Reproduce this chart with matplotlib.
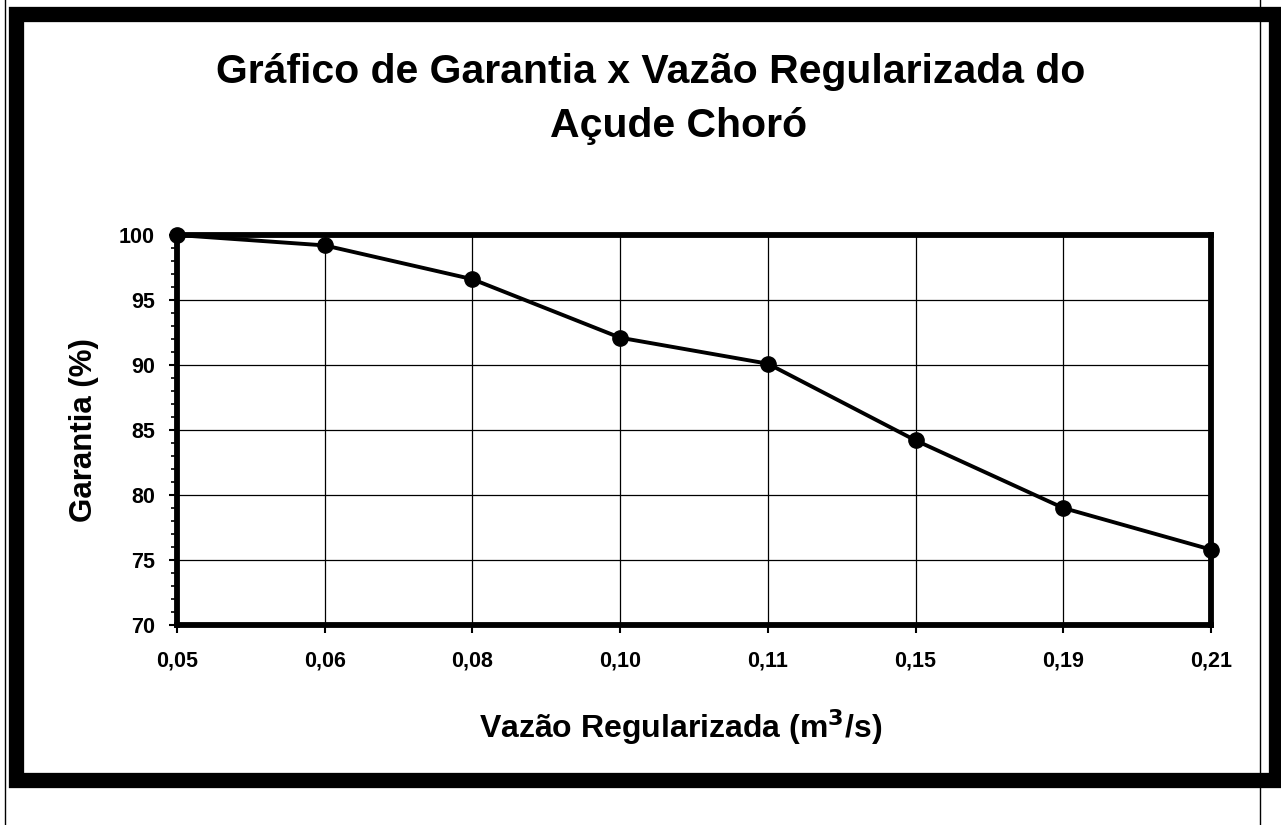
import matplotlib.pyplot as plt
from matplotlib.patches import Rectangle
from matplotlib.lines import Line2D
from matplotlib.ticker import MultipleLocator

plt.rcParams['font.family'] = ['Liberation Sans', 'DejaVu Sans']

# data
vazao = ['0,05', '0,06', '0,08', '0,10', '0,11', '0,15', '0,19', '0,21']
garantia = [100.0, 99.2, 96.6, 92.1, 90.1, 84.2, 79.0, 75.8]
yticks = [70, 75, 80, 85, 90, 95, 100]

W, H = 1281, 825
fig = plt.figure(figsize=(W / 100, H / 100), dpi=100)

# outer frame of the scanned page
fig.add_artist(Rectangle((15.5 / W, 1 - 780 / H), 1260 / W, 766 / H,
                         transform=fig.transFigure, fill=False,
                         edgecolor='black', linewidth=11))
fig.add_artist(Line2D([5 / W, 5 / W], [0, 1], transform=fig.transFigure,
                      color='black', linewidth=1))
fig.add_artist(Line2D([1260 / W, 1260 / W], [0, 1], transform=fig.transFigure,
                      color='black', linewidth=1))

ax = fig.add_axes([177 / W, 1 - 625 / H, (1211 - 177) / W, (625 - 235) / H])
x = range(len(vazao))
ax.plot(x, garantia, color='black', linewidth=2.8, marker='o',
        markersize=11, zorder=5, clip_on=False)

ax.set_xlim(0, len(vazao) - 1)
ax.set_ylim(70, 100)
ax.set_xticks(list(x))
ax.set_xticklabels(vazao)
ax.set_yticks(yticks)
ax.yaxis.set_minor_locator(MultipleLocator(1))
ax.grid(True, color='black', linewidth=0.9)
for s in ax.spines.values():
    s.set_linewidth(4.2)

ax.tick_params(axis='both', which='major', labelsize=15.5, width=1.5, length=6,
               direction='out')
ax.tick_params(axis='x', pad=12)
ax.tick_params(axis='y', pad=10)
ax.tick_params(axis='y', which='minor', length=4, width=1.2)
for lab in ax.get_xticklabels() + ax.get_yticklabels():
    lab.set_fontweight('bold')

ax.set_xlabel('Vazão Regularizada (m$^\\mathbf{3}$/s)', fontsize=23,
              fontweight='bold')
ax.xaxis.set_label_coords(0.487, -0.212)
ax.set_ylabel('Garantia (%)', fontsize=22.5, fontweight='bold', labelpad=14)

fig.text(651 / W, 1 - 83 / H, 'Gráfico de Garantia x Vazão Regularizada do',
         ha='center', va='baseline', fontsize=29.5, fontweight='bold')
fig.text(679 / W, 1 - 137 / H, 'Açude Choró',
         ha='center', va='baseline', fontsize=29.5, fontweight='bold')

fig.savefig('out.png', dpi=100)
